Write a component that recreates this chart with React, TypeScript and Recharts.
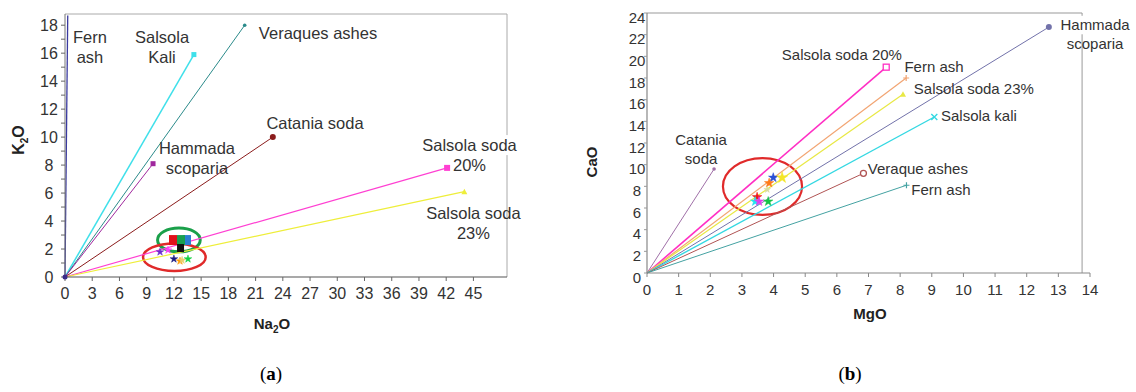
import React from "react";
import {
  ComposedChart,
  Line,
  XAxis,
  YAxis,
  Scatter,
  ReferenceLine,
  ReferenceArea,
  ReferenceDot,
  Symbols,
} from "recharts";

const FONT = '"Liberation Sans", Arial, Helvetica, sans-serif';
const INK = "#333";

// ---------- Panel (a): K2O against Na2O ----------
const sodaNames = ["Fern ash", "Salsola Kali", "Veraques ashes", "Hammada scoparia", "Catania soda", "Salsola soda 20%", "Salsola soda 23%"];
const sodaNa2O = [0.3, 14.2, 19.8, 9.7, 22.9, 42.1, 44.0];
const sodaK2O = [18.7, 15.9, 18.0, 8.1, 10.0, 7.8, 6.1];
const sodaColors = ["#3a3aa0", "#3fe0ea", "#2b8b8b", "#a0289e", "#8b1c1c", "#ff3fd2", "#eeee3a"];
const sodaMarkers = ["none", "square", "dot", "square", "circle", "bigSquare", "triangle"];
const sodaWidths = [1.3, 1.5, 1, 1, 1, 1.2, 1.2];

const sodaLabelLines = [["Fern", "ash"], ["Salsola", "Kali"], ["Veraques ashes"], ["Hammada", "scoparia"], ["Catania soda"], ["Salsola soda", "20%"], ["Salsola soda", "23%"]];
const sodaLabelNa2O = [2.75, 10.69, 27.88, 14.54, 27.55, 44.57, 45.0];
const sodaLabelK2O = [17.15, 17.15, 17.44, 9.22, 11.0, 9.43, 4.57];
const sodaLabelBoxed = [false, false, false, false, false, true, false];

const glassStarNa2O = [10.47, 11.35, 12.0, 12.67, 12.9, 13.55];
const glassStarK2O = [1.79, 1.93, 1.29, 1.14, 1.2, 1.29];
const glassStarColors = ["#6a2ccf", "#ff40ff", "#1a1a80", "#ff9900", "#e8d070", "#10d040"];

const sampleSquareNa2O = [13.44, 11.9, 12.78, 12.73];
const sampleSquareK2O = [2.64, 2.64, 2.64, 2.07];
const sampleSquareColors = ["#2a7fd0", "#e0101a", "#18a050", "#111111"];

const sodaRingNa2O = [[10.2, 14.9], [8.6, 15.5]];
const sodaRingK2O = [[1.8, 3.5], [0.43, 2.4]];
const sodaRingColors = ["#1aa04a", "#e02a2a"];

const na2oTicks = [0, 3, 6, 9, 12, 15, 18, 21, 24, 27, 30, 33, 36, 39, 42, 45];
const k2oTicks = [0, 1, 2, 3, 4, 5, 6, 7, 8, 9, 10, 11, 12, 13, 14, 15, 16, 17, 18];
const na2oMax = 48.7;
const k2oMax = 18.8;

// ---------- Panel (b): CaO against MgO ----------
const limeNames = ["Catania soda", "Salsola soda 20%", "Fern ash", "Salsola soda 23%", "Hammada scoparia", "Salsola kali", "Veraque ashes", "Fern ash"];
const limeMgO = [2.12, 7.56, 8.19, 8.09, 12.7, 9.08, 6.84, 8.2];
const limeCaO = [9.6, 19.0, 18.0, 16.5, 22.7, 14.4, 9.2, 8.1];
const limeColors = ["#a070a8", "#ff2fc4", "#f2a472", "#e8e844", "#7272aa", "#34d8e2", "#b05454", "#44a2a2"];
const limeMarkers = ["dot", "openSquare", "plus", "triangle", "circle", "cross", "openCircle", "plus"];
const limeWidths = [1, 1.6, 1.2, 1.2, 1, 1.4, 1, 1];

const limeLabelLines = [["Catania", "soda"], ["Salsola soda 20%"], ["Fern ash"], ["Salsola soda 23%"], ["Salsola kali"], ["Veraque ashes"], ["Fern ash"], ["Hammada", "scoparia"]];
const limeLabelMgO = [1.71, 6.16, 9.07, 10.33, 10.49, 8.56, 9.29, 14.16];
const limeLabelCaO = [12.28, 20.12, 19.02, 16.98, 14.49, 9.6, 7.66, 22.89];
const limeLabelBoxed = [false, false, false, false, false, false, false, true];

const glassMgO = [3.99, 4.27, 3.86, 3.8, 3.48, 3.42, 3.54, 3.83];
const glassCaO = [8.8, 8.8, 8.3, 7.7, 7.0, 6.6, 6.6, 6.6];
const glassColors = ["#2a4fd6", "#f4e62a", "#ff7a1a", "#d8dca0", "#f01818", "#22e4f0", "#e040f0", "#14c448"];

const limeRingMgO = [2.4, 4.9];
const limeRingCaO = [5.36, 10.6];

const mgoTicks = [0, 1, 2, 3, 4, 5, 6, 7, 8, 9, 10, 11, 12, 13, 14];
const caoTicks = [0, 2, 4, 6, 8, 10, 12, 14, 16, 18, 20, 22, 24];
const mgoFrame = 13.75;

// ---------- helpers ----------
const fromOrigin = (x: number, y: number) => [{ x: 0, y: 0 }, { x, y }];

function EndMarker({ cx, cy, kind, color }: { cx: number; cy: number; kind: string; color: string }) {
  if (cx == null || cy == null) return null;
  switch (kind) {
    case "square":
      return <rect x={cx - 2.5} y={cy - 2.5} width={5} height={5} fill={color} />;
    case "bigSquare":
      return <rect x={cx - 3} y={cy - 3} width={6} height={6} fill={color} />;
    case "openSquare":
      return <rect x={cx - 3} y={cy - 3} width={6} height={6} fill="#fff" stroke={color} strokeWidth={1.3} />;
    case "dot":
      return <circle cx={cx} cy={cy} r={1.8} fill={color} />;
    case "circle":
      return <circle cx={cx} cy={cy} r={3} fill={color} />;
    case "openCircle":
      return <circle cx={cx} cy={cy} r={3} fill="#fff" stroke={color} strokeWidth={1.3} />;
    case "triangle":
      return <path d={`M${cx},${cy - 3}L${cx + 3},${cy + 2.5}L${cx - 3},${cy + 2.5}Z`} fill={color} />;
    case "plus":
      return <path d={`M${cx - 3},${cy}H${cx + 3}M${cx},${cy - 3}V${cy + 3}`} stroke={color} strokeWidth={1.2} />;
    case "cross":
      return <path d={`M${cx - 3},${cy - 3}L${cx + 3},${cy + 3}M${cx - 3},${cy + 3}L${cx + 3},${cy - 3}`} stroke={color} strokeWidth={1.4} />;
    default:
      return null;
  }
}

// Multi-line annotation; when boxed, only the first line gets a white backing
function makeLabelShape(lines: string[], size: number, lineHeight: number, boxed: boolean) {
  return (p: any) => {
    const boxLines = lines.length > 1 && boxed ? 1 : lines.length;
    const longest = Math.max(...lines.slice(0, boxLines).map((t) => t.length));
    const w = longest * size * 0.52 + 4;
    const h = boxLines * lineHeight;
    return (
      <g>
        {boxed && <rect x={p.cx - w / 2} y={p.cy - lineHeight / 2} width={w} height={h} fill="#fff" />}
        {lines.map((t, k) => (
          <text key={k} x={p.cx} y={p.cy + k * lineHeight} dy="0.35em" textAnchor="middle" fontSize={size} fontFamily={FONT} fill={INK}>
            {t}
          </text>
        ))}
      </g>
    );
  };
}

const ellipseShape = (color: string, width: number) => (p: any) => {
  const h = Math.abs(p.height);
  const top = p.height < 0 ? p.y + p.height : p.y;
  return <ellipse cx={p.x + p.width / 2} cy={top + h / 2} rx={p.width / 2} ry={h / 2} fill="none" stroke={color} strokeWidth={width} />;
};

const starShape = (color: string, size: number) => (p: any) => (
  <Symbols cx={p.cx} cy={p.cy} type="star" size={size} fill={color} stroke={color} strokeWidth={0.5} />
);

const boxShape = (color: string, w: number, h: number) => (p: any) => (
  <rect x={p.cx - w / 2} y={p.cy - h / 2} width={w} height={h} fill={color} />
);

// ---------- tick renderers ----------
const na2oTick = (p: any) => (
  <text x={p.x} y={p.y} dy={16} textAnchor="middle" fontSize={16} fontFamily={FONT} fill={INK}>
    {p.payload.value}
  </text>
);
const k2oTick = (p: any) => (
  <text x={p.x - 9} y={p.y} dy={5.5} textAnchor="middle" fontSize={16} fontFamily={FONT} fill={INK}>
    {p.payload.value % 2 === 0 ? p.payload.value : ""}
  </text>
);
const mgoTick = (p: any) => (
  <text x={p.x} y={p.y} dy={16} textAnchor="middle" fontSize={15} fontFamily={FONT} fill={INK}>
    {p.payload.value}
  </text>
);
const caoTick = (p: any) => (
  <text x={p.x - 7} y={p.y} dy={9.5} textAnchor="middle" fontSize={15} fontFamily={FONT} fill={INK}>
    {p.payload.value}
  </text>
);

const titleStyle: React.CSSProperties = {
  position: "absolute",
  fontFamily: FONT,
  fontWeight: 700,
  fontSize: 15,
  color: "#222",
  lineHeight: 1,
  whiteSpace: "nowrap",
};
const subStyle: React.CSSProperties = { fontSize: 10, position: "relative", top: 4 };
const captionStyle: React.CSSProperties = {
  position: "absolute",
  fontFamily: '"Liberation Serif", "DejaVu Serif", serif',
  fontSize: 19,
  color: "#000",
  lineHeight: 1,
  transform: "translate(-50%, -50%)",
};

export default function App() {
  return (
    <div style={{ position: "absolute", left: 0, top: 0, width: 1136, height: 392, background: "#fff", overflow: "hidden" }}>
      {/* Panel (a) */}
      <div style={{ position: "absolute", left: 0, top: 0 }}>
        <ComposedChart width={540} height={340} margin={{ top: 14, right: 33, bottom: 33, left: 25 }}>
          <XAxis
            type="number"
            dataKey="x"
            domain={[0, na2oMax]}
            ticks={na2oTicks}
            interval={0}
            height={30}
            tickSize={4}
            tickMargin={2}
            tick={na2oTick}
            axisLine={{ stroke: "#555", strokeWidth: 1.2 }}
            tickLine={{ stroke: "#666" }}
          />
          <YAxis
            type="number"
            dataKey="y"
            domain={[0, k2oMax]}
            ticks={k2oTicks}
            interval={0}
            width={40}
            tickSize={4}
            tickMargin={3}
            tick={k2oTick}
            axisLine={{ stroke: "#777", strokeWidth: 1 }}
            tickLine={{ stroke: "#666" }}
          />
          <ReferenceLine y={k2oMax} stroke="#aaa" strokeWidth={1} />
          <ReferenceLine x={na2oMax} stroke="#aaa" strokeWidth={1} />
          {sodaLabelLines.map((lines, i) => (
            <ReferenceDot
              key={`lab-${i}`}
              x={sodaLabelNa2O[i]}
              y={sodaLabelK2O[i]}
              r={0}
              ifOverflow="visible"
              shape={makeLabelShape(lines, 16.5, 20, sodaLabelBoxed[i])}
            />
          ))}
          {sodaNames.map((name, i) => (
            <Line
              key={`soda-${i}`}
              name={name}
              data={fromOrigin(sodaNa2O[i], sodaK2O[i])}
              dataKey="y"
              type="linear"
              stroke={sodaColors[i]}
              strokeWidth={sodaWidths[i]}
              isAnimationActive={false}
              activeDot={false}
              legendType="none"
              dot={(p: any) => (
                <EndMarker key={`soda-${i}-${p.index}`} cx={p.cx} cy={p.cy} kind={p.index === 1 ? sodaMarkers[i] : "none"} color={sodaColors[i]} />
              )}
            />
          ))}
          <Scatter data={[{ x: 0, y: 0 }]} isAnimationActive={false} shape={(p: any) => <circle cx={p.cx} cy={p.cy} r={2.5} fill="#3a2a8a" />} />
          {sampleSquareNa2O.map((v, i) => (
            <Scatter
              key={`sq-${i}`}
              data={[{ x: v, y: sampleSquareK2O[i] }]}
              isAnimationActive={false}
              shape={boxShape(sampleSquareColors[i], i === 3 ? 7 : 8, i === 3 ? 8 : 10)}
            />
          ))}
          {glassStarNa2O.map((v, i) => (
            <Scatter
              key={`st-${i}`}
              data={[{ x: v, y: glassStarK2O[i] }]}
              isAnimationActive={false}
              shape={starShape(glassStarColors[i], 18)}
            />
          ))}
          {sodaRingNa2O.map((r, i) => (
            <ReferenceArea
              key={`ring-${i}`}
              x1={r[0]}
              x2={r[1]}
              y1={sodaRingK2O[i][0]}
              y2={sodaRingK2O[i][1]}
              ifOverflow="visible"
              shape={ellipseShape(sodaRingColors[i], i === 0 ? 3 : 2.5)}
            />
          ))}
        </ComposedChart>
      </div>

      {/* Panel (b) */}
      <div style={{ position: "absolute", left: 560, top: 0 }}>
        <ComposedChart width={576} height={340} margin={{ top: 13, right: 46, bottom: 37, left: 47 }}>
          <XAxis
            type="number"
            dataKey="x"
            domain={[0, 14]}
            ticks={mgoTicks}
            interval={0}
            height={30}
            tickSize={4}
            tickMargin={2}
            tick={mgoTick}
            axisLine={{ stroke: "#888", strokeWidth: 1.2 }}
            tickLine={{ stroke: "#888" }}
          />
          <YAxis
            type="number"
            dataKey="y"
            domain={[0, 24]}
            ticks={caoTicks}
            interval={0}
            width={40}
            tickSize={3}
            tickMargin={0}
            tick={caoTick}
            axisLine={{ stroke: "#888", strokeWidth: 1.2 }}
            tickLine={{ stroke: "#999" }}
          />
          <ReferenceLine segment={[{ x: 0, y: 24 }, { x: mgoFrame, y: 24 }]} stroke="#999" ifOverflow="visible" />
          <ReferenceLine segment={[{ x: mgoFrame, y: 0 }, { x: mgoFrame, y: 24 }]} stroke="#999" ifOverflow="visible" />
          {limeNames.map((name, i) => (
            <Line
              key={`lime-${i}`}
              name={name}
              data={fromOrigin(limeMgO[i], limeCaO[i])}
              dataKey="y"
              type="linear"
              stroke={limeColors[i]}
              strokeWidth={limeWidths[i]}
              isAnimationActive={false}
              activeDot={false}
              legendType="none"
              dot={(p: any) => (
                <EndMarker key={`lime-${i}-${p.index}`} cx={p.cx} cy={p.cy} kind={p.index === 1 ? limeMarkers[i] : "none"} color={limeColors[i]} />
              )}
            />
          ))}
          <ReferenceArea
            x1={limeRingMgO[0]}
            x2={limeRingMgO[1]}
            y1={limeRingCaO[0]}
            y2={limeRingCaO[1]}
            ifOverflow="visible"
            shape={ellipseShape("#e02a2a", 2.2)}
          />
          {glassMgO.map((v, i) => (
            <Scatter
              key={`gs-${i}`}
              data={[{ x: v, y: glassCaO[i] }]}
              isAnimationActive={false}
              shape={starShape(glassColors[i], i === 1 ? 40 : i === 3 ? 14 : 28)}
            />
          ))}
          {limeLabelLines.map((lines, i) => (
            <ReferenceDot
              key={`llab-${i}`}
              x={limeLabelMgO[i]}
              y={limeLabelCaO[i]}
              r={0}
              ifOverflow="visible"
              shape={makeLabelShape(lines, 15, 18.5, limeLabelBoxed[i])}
            />
          ))}
        </ComposedChart>
      </div>

      {/* Axis titles */}
      <div style={{ ...titleStyle, fontSize: 16, left: 19, top: 140, transform: "translate(-50%, -50%) rotate(-90deg)" }}>
        K<span style={subStyle}>2</span>O
      </div>
      <div style={{ ...titleStyle, left: 272, top: 323, transform: "translate(-50%, -50%)" }}>
        Na<span style={subStyle}>2</span>O
      </div>
      <div style={{ ...titleStyle, left: 591, top: 162, transform: "translate(-50%, -50%) rotate(-90deg)" }}>CaO</div>
      <div style={{ ...titleStyle, left: 870, top: 313, transform: "translate(-50%, -50%)" }}>MgO</div>

      {/* Panel captions */}
      <div style={{ ...captionStyle, left: 271, top: 373 }}>
        (<b>a</b>)
      </div>
      <div style={{ ...captionStyle, left: 850, top: 373 }}>
        (<b>b</b>)
      </div>
    </div>
  );
}
